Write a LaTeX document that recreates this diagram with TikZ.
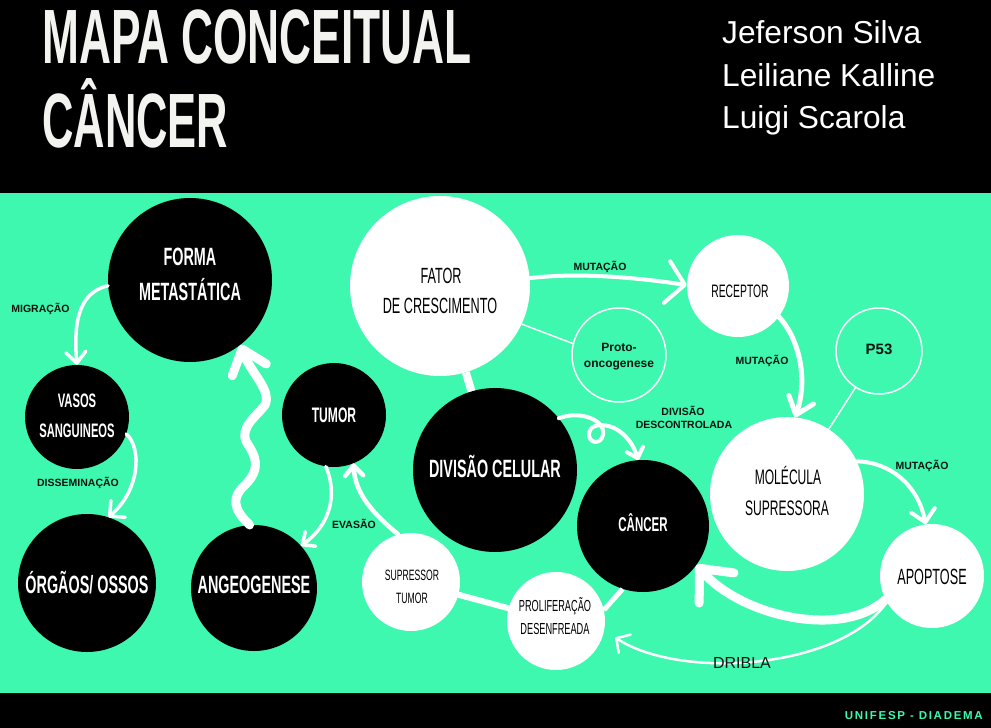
\documentclass[tikz,border=0pt]{standalone}
\usepackage{fontspec}
\usepackage{graphicx}
\setmainfont{Liberation Sans}
\newfontfamily\footfont[LetterSpace=15]{Liberation Sans}
\usetikzlibrary{arrows.meta,calc}
\definecolor{mint}{RGB}{62,248,176}
\definecolor{titlewhite}{RGB}{243,243,239}
\definecolor{labink}{RGB}{12,20,16}
\newcommand{\sqz}[1]{\scalebox{0.575}[1]{#1}}
\begin{document}
\begin{tikzpicture}[x=1pt,y=-1pt,
  blackc/.style={circle,fill=black,inner sep=0pt,minimum size=#1},
  whitec/.style={circle,fill=white,inner sep=0pt,minimum size=#1},
  ringc/.style={circle,draw=white,line width=1.5pt,inner sep=0pt,minimum size=#1},
  bw/.style={text=white,anchor=base,inner sep=0pt,font=\bfseries\fontsize{#1}{#1}\selectfont},
  rb/.style={text=black,anchor=base,inner sep=0pt,font=\fontsize{#1}{#1}\selectfont},
  lab/.style={text=labink,anchor=base,inner sep=0pt,font=\bfseries\fontsize{10.5}{10.5}\selectfont},
  conn/.style={draw=white,line width=#1,line cap=round,line join=round},
]
\useasboundingbox (0,0) rectangle (991,728);
\fill[black] (0,0) rectangle (991,728);
\fill[mint] (0,193) rectangle (991,693);

% title and authors
\node[anchor=base west,inner sep=0pt,text=titlewhite,font=\bfseries\fontsize{77}{77}\selectfont] (title1) at (42,63) {\scalebox{0.575}[1]{MAPA CONCEITUAL}};
\node[anchor=base west,inner sep=0pt,text=titlewhite,font=\bfseries\fontsize{77}{77}\selectfont] (title2) at (42,147) {\scalebox{0.565}[1]{CÂNCER}};
\node[anchor=base west,inner sep=0pt,text=white,font=\fontsize{31.7}{31.7}\selectfont] (a1) at (722,43) {Jeferson Silva};
\node[anchor=base west,inner sep=0pt,text=white,font=\fontsize{31.7}{31.7}\selectfont] (a2) at (722,86) {Leiliane Kalline};
\node[anchor=base west,inner sep=0pt,text=white,font=\fontsize{31.7}{31.7}\selectfont] (a3) at (722,128) {Luigi Scarola};

% circles
\node[blackc=164pt] (forma) at (190,280) {};
\node[blackc=104pt] (vasos) at (77,417) {};
\node[blackc=138pt] (orgaos) at (87,583) {};
\node[blackc=126pt] (angeo) at (254,588) {};
\node[blackc=104pt] (tumor) at (334,415) {};
\node[whitec=180pt] (fator) at (440,286) {};
\node[ringc=94pt] (proto) at (619,355) {};
\node[blackc=164pt] (divisao) at (495,470) {};
\node[blackc=132pt] (cancer) at (643,526) {};
\node[whitec=98pt] (supp) at (411,582) {};
\node[whitec=98pt] (prolif) at (556,621) {};
\node[whitec=102pt] (receptor) at (738,286) {};
\node[ringc=86pt] (p53) at (879,351) {};
\node[whitec=154pt] (molecula) at (787,494) {};
\node[whitec=104pt] (apoptose) at (932,576) {};

% plain links
\draw[conn=8pt,line cap=butt] (fator) -- (divisao);
\draw[white,line width=1.5pt] (fator.-25) -- (proto.166);
\draw[white,line width=1.5pt] (p53) -- (molecula);
\draw[conn=6pt] (supp) -- (prolif);
\draw[conn=5pt,line cap=butt] (prolif.13) -- (cancer.252);

% arrows
\draw[conn=3.5pt,-{Straight Barb[length=11pt,width=20pt,round]}] (forma.184) .. controls (80,292) and (73,320) .. (vasos.90);
\draw[conn=3.5pt,-{Straight Barb[length=11pt,width=22pt,round]}] (vasos.-19) .. controls (142,448) and (140,490) .. (orgaos.72);
\draw[conn=9pt,-{Straight Barb[length=22pt,width=36pt,round]}] (angeo.94) .. controls (232,508) and (232,497) .. (245,485) .. controls (262,468) and (255,455) .. (247,443) .. controls (238,428) and (258,415) .. (265,405) .. controls (272,390) and (250,372) .. (forma.-52);
\draw[conn=3.5pt,-{Straight Barb[length=10pt,width=18pt,round]}] (tumor.-99) .. controls (338,495) and (330,525) .. (angeo.42);
\draw[conn=4.5pt,-{Straight Barb[length=10pt,width=18pt,round]}] (supp.105) .. controls (375,515) and (355,495) .. (tumor.-68);
\draw[conn=4pt,-{Straight Barb[length=18pt,width=42pt,round]}] (fator.5) .. controls (580,272) and (640,278) .. (receptor.179);
\draw[conn=5pt,-{Straight Barb[length=16pt,width=26pt,round]}] (receptor.-37) .. controls (800,340) and (808,380) .. (molecula.84);
\draw[conn=4pt,-{Straight Barb[length=9pt,width=17pt,round]}] (divisao.39) .. controls (580,410) and (606,420) .. (603,435) .. controls (601,445) and (588,444) .. (589,433) .. controls (590,420) and (625,420) .. (cancer.94);
\draw[conn=4pt,-{Straight Barb[length=12pt,width=24pt,round]}] (molecula.25) .. controls (890,462) and (918,485) .. (apoptose.97);
\draw[conn=9pt,-{Straight Barb[length=26pt,width=46pt,round]}] (apoptose.207) .. controls (840,640) and (740,615) .. (cancer.-36);
\draw[conn=2.5pt,-{Straight Barb[length=10pt,width=22pt,round]}] (apoptose.210) .. controls (840,670) and (680,680) .. ($(prolif.-16)+(12,3)$);

% circle texts
\node[bw=25] (formaA) at (190,265) {\sqz{FORMA}};
\node[bw=25] (formaB) at (190,300) {\sqz{METASTÁTICA}};
\node[bw=19.5] (vasosA) at (77,407) {\sqz{VASOS}};
\node[bw=19.5] (vasosB) at (77,437) {\sqz{SANGUINEOS}};
\node[bw=25] (orgaosT) at (87,593) {\sqz{ÓRGÃOS/ OSSOS}};
\node[bw=25] (angeoT) at (254,593) {\sqz{ANGEOGENESE}};
\node[bw=21] (tumorT) at (334,422) {\sqz{TUMOR}};
\node[bw=25] (divisaoT) at (495,477) {\sqz{DIVISÃO CELULAR}};
\node[bw=20] (cancerT) at (643,531) {\sqz{CÂNCER}};
\node[rb=22] (fatorA) at (441,283) {\sqz{FATOR}};
\node[rb=22] (fatorB) at (440,313) {\sqz{DE CRESCIMENTO}};
\node[rb=15] (suppA) at (412,580) {\sqz{SUPRESSOR}};
\node[rb=15] (suppB) at (412,603) {\sqz{TUMOR}};
\node[rb=16] (prolifA) at (555,611) {\sqz{PROLIFERAÇÃO}};
\node[rb=16] (prolifB) at (555,634) {\sqz{DESENFREADA}};
\node[rb=18] (receptorT) at (740,297) {\sqz{RECEPTOR}};
\node[rb=21] (molA) at (788,484) {\sqz{MOLÉCULA}};
\node[rb=21] (molB) at (787,515) {\sqz{SUPRESSORA}};
\node[rb=22] (apopT) at (932,584) {\sqz{APOPTOSE}};
\node[text=labink,anchor=base,inner sep=0pt,font=\bfseries\fontsize{15}{15}\selectfont] (p53T) at (879,354) {P53};
\node[text=labink,anchor=base,inner sep=0pt,font=\bfseries\fontsize{12}{12}\selectfont] (protoA) at (619,351) {Proto-};
\node[text=labink,anchor=base,inner sep=0pt,font=\bfseries\fontsize{12}{12}\selectfont] (protoB) at (619,367) {oncogenese};

% connector labels
\node[lab] (migr) at (40.5,312) {MIGRAÇÃO};
\node[lab] (dissem) at (78,486) {DISSEMINAÇÃO};
\node[lab] (evas) at (354,528) {EVASÃO};
\node[lab] (mut1) at (600,270) {MUTAÇÃO};
\node[lab] (mut2) at (762,364) {MUTAÇÃO};
\node[lab] (mut3) at (922,469) {MUTAÇÃO};
\node[lab] (divA) at (683,415) {DIVISÃO};
\node[lab] (divB) at (684,428) {DESCONTROLADA};
\node[text=labink,anchor=base,inner sep=0pt,font=\fontsize{16}{16}\selectfont] (dribla) at (742,668) {DRIBLA};

% footer
\node[anchor=base east,inner sep=0pt,text=mint,font=\footfont\bfseries\fontsize{11.5}{11.5}\selectfont] (footer) at (983,719) {UNIFESP - DIADEMA};
\end{tikzpicture}
\end{document}
